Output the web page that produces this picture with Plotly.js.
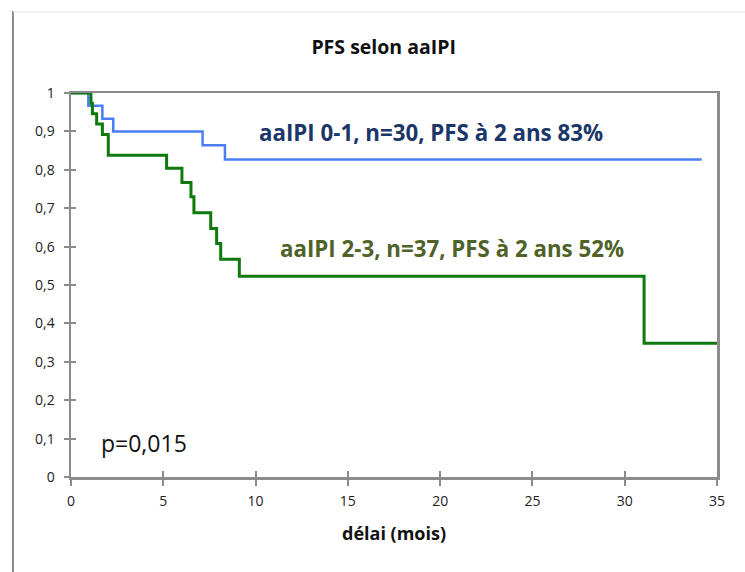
<!DOCTYPE html>
<html>
<head>
<meta charset="utf-8">
<script src="https://cdn.plot.ly/plotly-3.0.1.min.js"></script>
<style>html,body{margin:0;padding:0;background:#fff;}#chart{width:745px;height:572px;}</style>
</head>
<body>
<div id="chart"></div>
<script>
// Kaplan-Meier step points (time in months, survival)
const lowTime = [0, 0.94, 1.70, 2.29, 7.13, 8.34, 34.17];
const lowSurv = [1, 0.967, 0.933, 0.900, 0.864, 0.827, 0.827];
const highTime = [0, 1.08, 1.16, 1.39, 1.70, 2.02, 5.18, 6.01, 6.50, 6.66, 7.57, 7.89, 8.11, 9.12, 31.05, 35];
const highSurv = [1, 0.973, 0.946, 0.919, 0.892, 0.838, 0.804, 0.767, 0.730, 0.688, 0.647, 0.608, 0.567, 0.523, 0.348, 0.348];
const xTicks = [0, 5, 10, 15, 20, 25, 30, 35];
const yTicks = [0, 0.1, 0.2, 0.3, 0.4, 0.5, 0.6, 0.7, 0.8, 0.9, 1];

const font = "Open Sans, Liberation Sans, sans-serif";

const traces = [
  {x: lowTime, y: lowSurv, mode: 'lines', line: {shape: 'hv', color: '#4a7ef5', width: 2.5}, hoverinfo: 'skip'},
  {x: highTime, y: highSurv, mode: 'lines', line: {shape: 'hv', color: '#0e7a0d', width: 3}, hoverinfo: 'skip'},
  {x: [], y: [], xaxis: 'x2', yaxis: 'y2'}
];

const axLine = '#8c8c8c';
const layout = {
  width: 745, height: 572,
  margin: {l: 71, r: 28, t: 93, b: 95},
  paper_bgcolor: '#fff', plot_bgcolor: '#fff',
  showlegend: false,
  separators: ', ',
  font: {family: font, color: '#222', size: 14},
  title: {text: '<b>PFS selon aaIPI</b>', x: 0.515, xanchor: 'center', y: 1 - 47/572, yanchor: 'middle', font: {family: font, size: 19.5, color: '#111'}},
  xaxis: {
    range: [0, 35], tickvals: xTicks, showgrid: false, zeroline: false,
    showline: true, linecolor: axLine, linewidth: 2.5, mirror: true,
    ticks: 'outside', ticklen: 6, tickwidth: 2, tickcolor: axLine, ticklabelstandoff: 4,
    tickfont: {family: font, size: 14, color: '#222'},
    title: {text: '<b>délai (mois)</b>', standoff: 18, font: {family: font, size: 18, color: '#111'}}
  },
  yaxis: {
    range: [0, 1], tickvals: yTicks, showgrid: false, zeroline: false,
    showline: true, linecolor: axLine, linewidth: 2.5, mirror: true,
    ticks: 'outside', ticklen: 5, tickwidth: 2, tickcolor: axLine, ticklabelstandoff: 6,
    tickfont: {family: font, size: 14, color: '#222'}, tickformat: '.1~f'
  },
  xaxis2: {overlaying: 'x', range: [0, 35], tickvals: xTicks, ticks: 'inside', ticklen: 6, tickwidth: 2, tickcolor: axLine, showticklabels: false, showgrid: false, zeroline: false, showline: false},
  yaxis2: {overlaying: 'y', range: [0, 1], tickvals: yTicks, ticks: 'inside', ticklen: 5, tickwidth: 2, tickcolor: axLine, showticklabels: false, showgrid: false, zeroline: false, showline: false},
  annotations: [
    {x: 10.1, y: 0.898, xref: 'x', yref: 'y', xanchor: 'left', yanchor: 'middle', showarrow: false,
     text: '<b>aaIPI 0-1, n=30, PFS à 2 ans 83%</b>', font: {family: font, size: 22.3, color: '#1b3668'}},
    {x: 11.2, y: 0.594, xref: 'x', yref: 'y', xanchor: 'left', yanchor: 'middle', showarrow: false,
     text: '<b>aaIPI 2-3, n=37, PFS à 2 ans 52%</b>', font: {family: font, size: 22.3, color: '#4f6228'}},
    {x: 1.5, y: 0.0885, xref: 'x', yref: 'y', xanchor: 'left', yanchor: 'middle', showarrow: false,
     text: 'p=0,015', font: {family: font, size: 23, color: '#111'}}
  ],
  shapes: [
    {type: 'line', xref: 'paper', yref: 'paper', x0: (13-71)/646, x1: (13-71)/646, y0: (477-11)/384, y1: (477-575)/384, line: {color: '#8c8c8c', width: 2}},
    {type: 'line', xref: 'paper', yref: 'paper', x0: (13-71)/646, x1: (750-71)/646, y0: (477-12)/384, y1: (477-12)/384, line: {color: '#e6e6e6', width: 1}}
  ]
};

Plotly.newPlot('chart', traces, layout, {staticPlot: true, displayModeBar: false});
</script>
</body>
</html>
